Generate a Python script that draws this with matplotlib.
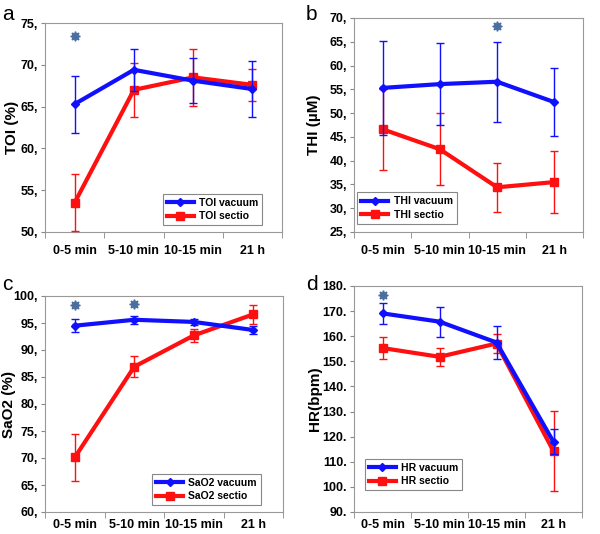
import matplotlib
matplotlib.use('Agg')
import matplotlib.pyplot as plt
from matplotlib.ticker import FixedLocator, FuncFormatter

plt.rcParams['font.family'] = ['Liberation Sans', 'DejaVu Sans']
plt.rcParams['font.weight'] = 'bold'

categories = ['0-5 min', '5-10 min', '10-15 min', '21 h']

toi_vac = [65.3, 69.4, 68.1, 67.1]
toi_vac_err = [3.4, 2.5, 2.7, 3.4]
toi_sec = [53.5, 67.0, 68.5, 67.6]
toi_sec_err = [3.4, 3.2, 3.4, 1.9]

thi_vac = [55.3, 56.1, 56.6, 52.3]
thi_vac_err = [9.9, 8.6, 8.4, 7.2]
thi_sec = [46.6, 42.4, 34.4, 35.5]
thi_sec_err = [8.5, 7.6, 5.1, 6.6]

sao_vac = [94.5, 95.6, 95.2, 93.7]
sao_vac_err = [1.2, 0.7, 0.5, 0.7]
sao_sec = [70.1, 86.9, 92.7, 96.6]
sao_sec_err = [4.3, 1.9, 1.2, 1.8]

hr_vac = [169.1, 165.8, 157.5, 117.9]
hr_vac_err = [4.2, 6.0, 6.5, 5.0]
hr_sec = [155.3, 151.8, 157.1, 114.2]
hr_sec_err = [4.5, 3.6, 3.9, 16.0]

panels = [
    # letter, ylabel, ylim, step, vacuum, err, sectio, err, legend names, stars, sep
    ('a', 'TOI (%)', (50, 75), 5, toi_vac, toi_vac_err, toi_sec, toi_sec_err,
     ('TOI vacuum', 'TOI sectio'), [(0, 73.4)], ','),
    ('b', 'THI (µM)', (25, 70), 5, thi_vac, thi_vac_err, thi_sec, thi_sec_err,
     ('THI vacuum', 'THI sectio'), [(2, 68.3)], ','),
    ('c', 'SaO2 (%)', (60, 100), 5, sao_vac, sao_vac_err, sao_sec, sao_sec_err,
     ('SaO2 vacuum', 'SaO2 sectio'), [(0, 98.3), (1, 98.5)], ','),
    ('d', 'HR(bpm)', (90, 180), 10, hr_vac, hr_vac_err, hr_sec, hr_sec_err,
     ('HR vacuum', 'HR sectio'), [(0, 176.5)], '.'),
]

# layout in pixels
boxes = [(45, 23, 282, 232), (354, 18, 583, 232),
         (45, 296, 283, 512), (354, 286, 582, 512)]
letter_pos = [(2, 14), (306, 14), (2, 284), (306, 284)]
ylabel_x = [19, 321, 16, 322]   # right edge of the rotated label
xlabel_pad = [9, 9, 5, 5]
# legend box in pixels: left, top, right, bottom
legend_boxes = [(162, 192, 263, 227), (366, 193, 448, 223),
                (158, 473, 255, 506), (370, 459, 457, 490)]

W, H = 600, 534
fig = plt.figure(figsize=(6, 5.34), dpi=100)

blue = '#1010ff'
red = '#ff1010'
x = list(range(len(categories)))

for i, p in enumerate(panels):
    letter, ylabel, ylim, step, v, ve, s, se, names, stars, sep = p
    l, t, r, b = boxes[i]
    ax = fig.add_axes([l / W, 1 - b / H, (r - l) / W, (b - t) / H])

    eb_s = ax.errorbar(x, s, yerr=se, color=red, lw=3, marker='s', ms=6,
                       ecolor=red, elinewidth=1, capsize=3, zorder=3)
    eb_v = ax.errorbar(x, v, yerr=ve, color=blue, lw=3, marker='D', ms=4,
                       ecolor=blue, elinewidth=1, capsize=3, zorder=4)
    for sx, sy in stars:
        ax.plot(sx, sy, marker=(8, 1, 0), ms=7, color='#4a6ea0', ls='none')

    ax.set_xlim(-0.5, 3.5)
    ax.set_ylim(*ylim)
    yt = list(range(ylim[0], ylim[1] + 1, step))
    ax.set_yticks(yt)
    ax.yaxis.set_major_formatter(FuncFormatter(lambda val, pos, sep=sep: '%d%s' % (val, sep)))
    ax.set_xticks(x)
    ax.set_xticklabels(categories)
    ax.xaxis.set_minor_locator(FixedLocator([-0.5, 0.5, 1.5, 2.5, 3.5]))
    ax.tick_params(axis='x', which='major', length=0, pad=xlabel_pad[i], labelsize=9)
    ax.tick_params(axis='x', which='minor', length=4, color='#888888')
    ax.tick_params(axis='y', length=3, color='#888888', labelsize=9, pad=2)
    for sp in ax.spines.values():
        sp.set_color('#999999')
        sp.set_linewidth(0.8)
    ax.set_ylabel(ylabel, fontsize=11, fontweight='bold')
    ax.yaxis.set_label_coords((ylabel_x[i] - l) / (r - l), 0.5)

    # legend placed by its pixel box, vacuum first, plain line handles
    ll, lt, lr, lb = legend_boxes[i]
    leg = ax.legend([eb_v.lines[0], eb_s.lines[0]], list(names), loc='center',
                    bbox_to_anchor=((ll + lr) / 2 / W, 1 - (lt + lb) / 2 / H),
                    bbox_transform=fig.transFigure,
                    fontsize=7.5, fancybox=False, edgecolor='#888888',
                    framealpha=1, handlelength=2.6, labelspacing=0.35,
                    borderpad=0.4, handletextpad=0.5)
    leg.get_frame().set_linewidth(0.8)

    fig.text(letter_pos[i][0] / W, 1 - letter_pos[i][1] / H, letter, fontsize=15,
             fontweight='normal', va='center', ha='left')

fig.savefig('out.png', dpi=100)
